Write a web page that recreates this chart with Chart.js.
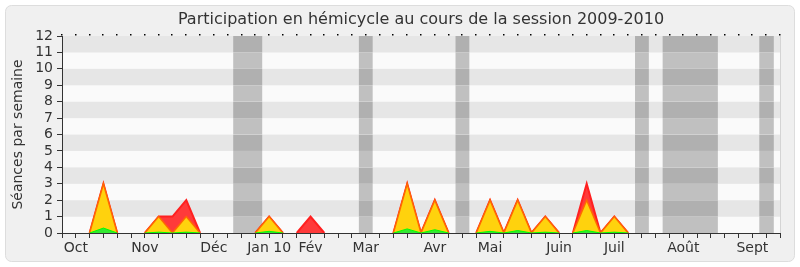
<!DOCTYPE html>
<html>
<head>
<meta charset="utf-8">
<script src="https://cdn.jsdelivr.net/npm/chart.js@4"></script>
<style>
  html, body { margin: 0; padding: 0; background: #fff; }
</style>
</head>
<body>
<canvas id="presenceChart" width="800" height="267"></canvas>
<script>
// weekly values, index 0 = last week of september 2009
var redTotal = [0,0,0,3,0,0,0,1,1,2, 0,0,0,0,0,1,0,0,1,0, 0,0,0,0,0,3,0,2,0,0, 0,2,0,2,0,1,0,0,3,0, 1,0,0,0,0,0,0,0,0,0, 0,0,0];
var yellowPres = [0,0,0,3,0,0,0,1,0,1, 0,0,0,0,0,1,0,0,0,0, 0,0,0,0,0,3,0,2,0,0, 0,2,0,2,0,1,0,0,2,0, 1,0,0,0,0,0,0,0,0,0, 0,0,0];
var greenInter = [0,0,0,0.3,0,0,0,0.05,0,0.05, 0,0,0,0,0,0.1,0,0,0,0, 0,0,0,0,0,0.25,0,0.2,0,0, 0,0.1,0,0.15,0,0.05,0,0,0.15,0, 0.05,0,0,0,0,0,0,0,0,0, 0,0,0];

var monthNames = ['Oct', 'Nov', 'Déc', 'Jan 10', 'Fév', 'Mar', 'Avr', 'Mai', 'Juin', 'Juil', 'Août', 'Sept'];
var monthWeeks = [1, 6, 11, 15, 18, 22, 27, 31, 36, 40, 45, 50];

// holiday weeks (start, end) in week units
var holidayStart = [12.4, 21.5, 28.5, 41.5, 43.5, 50.5];
var holidayEnd = [14.5, 22.5, 29.5, 42.5, 47.5, 51.55];

var weekLabels = redTotal.map(function () { return ''; });
monthWeeks.forEach(function (w, i) { weekLabels[w] = monthNames[i]; });

var fontFamily = "'DejaVu Sans', Verdana, sans-serif";

// hide line segments lying flat on the baseline
function edge(color) {
    return function (c) {
        return (c.p0.parsed.y === 0 && c.p1.parsed.y === 0) ? 'rgba(0,0,0,0)' : color;
    };
}

var backdrop = {
    id: 'backdrop',
    beforeDraw: function (chart) {
        var ctx = chart.ctx, a = chart.chartArea, x = chart.scales.x, y = chart.scales.y;
        ctx.save();
        ctx.fillStyle = '#ffffff';
        ctx.fillRect(0, 0, chart.width, chart.height);
        ctx.beginPath();
        ctx.roundRect(5.5, 5.5, chart.width - 11, chart.height - 11, 6);
        ctx.fillStyle = '#f0f0f0';
        ctx.fill();
        ctx.strokeStyle = '#dddddd';
        ctx.lineWidth = 1;
        ctx.stroke();

        for (var k = 0; k < 12; k++) {
            var top = y.getPixelForValue(k + 1), bot = y.getPixelForValue(k);
            var dark = k % 2 === 1;
            ctx.fillStyle = dark ? '#e6e6e6' : '#fafafa';
            ctx.fillRect(a.left, top, a.width, bot - top);
            ctx.fillStyle = dark ? '#b0b0b0' : '#c0c0c0';
            for (var h = 0; h < holidayStart.length; h++) {
                var x0 = x.getPixelForValue(holidayStart[h]);
                var x1 = x.getPixelForValue(holidayEnd[h]);
                ctx.fillRect(x0, top, x1 - x0, bot - top);
            }
        }
        ctx.strokeStyle = '#d4d4d4';
        ctx.beginPath();
        ctx.moveTo(a.right + 0.5, a.top);
        ctx.lineTo(a.right + 0.5, a.bottom);
        ctx.stroke();

        ctx.fillStyle = '#000000';
        for (var i = 0; i < weekLabels.length; i++) {
            var px = Math.round(x.getPixelForValue(i));
            ctx.fillRect(px - 1, a.top - 2, 1.5, 1.5);
        }
        ctx.restore();
    }
};

var ctx = document.getElementById('presenceChart').getContext('2d');
var presenceChart = new Chart(ctx, {
    type: 'line',
    data: {
        labels: weekLabels,
        datasets: [{
            label: 'Interventions',
            data: greenInter,
            fill: 'origin',
            backgroundColor: '#33e833',
            borderColor: '#00ff00',
            borderWidth: 1,
            segment: { borderColor: edge('#00ff00') },
            order: 1
        }, {
            label: 'Présences',
            data: yellowPres,
            fill: 'origin',
            backgroundColor: '#ffd20d',
            borderColor: '#ff6a00',
            borderWidth: 1.5,
            segment: { borderColor: edge('#ff6a00') },
            order: 2
        }, {
            label: 'Total',
            data: redTotal,
            fill: 'origin',
            backgroundColor: '#ff3a3a',
            borderColor: '#ff2020',
            borderWidth: 2,
            segment: { borderColor: edge('#ff2020') },
            order: 3
        }]
    },
    options: {
        responsive: false,
        animation: false,
        devicePixelRatio: 1,
        layout: { padding: { left: 0, right: 20, top: 0, bottom: 0 } },
        elements: {
            line: { tension: 0 },
            point: { radius: 0 }
        },
        scales: {
            x: {
                z: 1,
                grid: { drawOnChartArea: false, tickLength: 5, color: '#333' },
                border: { color: '#333', width: 1 },
                ticks: {
                    autoSkip: false, maxRotation: 0, padding: 2,
                    color: '#333', font: { family: fontFamily, size: 14 }
                },
                afterFit: function (s) { s.height = 34; }
            },
            y: {
                min: 0,
                max: 12,
                grid: { drawOnChartArea: false, tickLength: 5, color: '#333' },
                border: { color: '#333', width: 1 },
                ticks: {
                    stepSize: 1, autoSkip: false, padding: 4,
                    color: '#333', font: { family: fontFamily, size: 14 }
                },
                title: {
                    display: true,
                    text: 'Séances par semaine',
                    color: '#333',
                    font: { family: fontFamily, size: 14 },
                    padding: { top: 10, bottom: 0 }
                },
                afterFit: function (s) { s.width = 62; }
            }
        },
        plugins: {
            legend: { display: false },
            tooltip: { enabled: false },
            title: {
                display: true,
                fullSize: false,
                text: 'Participation en hémicycle au cours de la session 2009-2010',
                color: '#333',
                font: { family: fontFamily, size: 16, weight: 'normal' },
                padding: { top: 10, bottom: 6.8 }
            }
        }
    },
    plugins: [backdrop]
});
</script>
</body>
</html>
